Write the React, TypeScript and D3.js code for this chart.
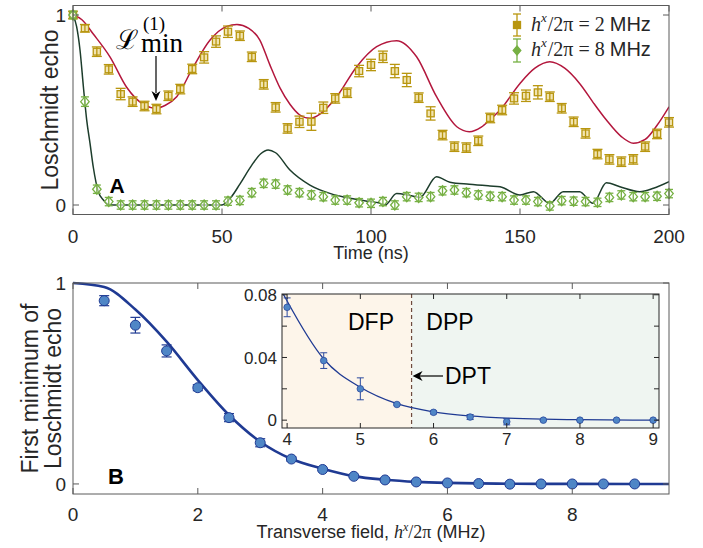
import React, { useEffect } from 'react';
import * as d3 from 'd3';

// ---- panel A: Loschmidt echo vs time ----
const timeNs = [0, 4, 8, 12, 16, 20, 24, 28, 32, 36, 40, 44, 48, 52, 56, 60, 64, 68, 72, 76, 80, 84, 88, 92, 96, 100,
  104, 108, 112, 116, 120, 124, 128, 132, 136, 140, 144, 148, 152, 156, 160, 164, 168, 172, 176, 180, 184, 188, 192, 196, 200];

const echo2MHz = [1.0, 0.93, 0.807, 0.714, 0.584, 0.544, 0.521, 0.505, 0.575, 0.61,
  0.716, 0.777, 0.86, 0.912, 0.891, 0.78, 0.635, 0.514, 0.403, 0.438,
  0.438, 0.512, 0.561, 0.591, 0.705, 0.737, 0.78, 0.705, 0.658, 0.565,
  0.482, 0.368, 0.307, 0.302, 0.338, 0.458, 0.5, 0.561, 0.575, 0.593,
  0.57, 0.509, 0.438, 0.377, 0.268, 0.24, 0.228, 0.24, 0.307, 0.374,
  0.435];
const err2MHz = [0.02, 0.02, 0.025, 0.025, 0.03, 0.025, 0.025, 0.025, 0.025, 0.025,
  0.025, 0.03, 0.03, 0.03, 0.025, 0.025, 0.025, 0.025, 0.025, 0.03,
  0.045, 0.03, 0.025, 0.025, 0.03, 0.03, 0.03, 0.035, 0.035, 0.025,
  0.035, 0.025, 0.025, 0.025, 0.025, 0.025, 0.025, 0.03, 0.03, 0.035,
  0.025, 0.025, 0.025, 0.025, 0.025, 0.025, 0.025, 0.025, 0.025, 0.025,
  0.025];

const echo8MHz = [1.0, 0.544, 0.083, 0.018, 0, 0, 0, 0, 0, 0,
  0, 0, 0, 0.02, 0.024, 0.065, 0.114, 0.11, 0.079, 0.065,
  0.053, 0.044, 0.026, 0.026, 0.012, 0.009, 0.018, 0.0, 0.044, 0.04,
  0.044, 0.075, 0.079, 0.065, 0.053, 0.046, 0.044, 0.026, 0.026, 0.018,
  -0.005, 0.023, 0.02, 0.018, 0.014, 0.04, 0.053, 0.044, 0.044, 0.046,
  0.06];
const err8MHz = [0.02, 0.025, 0.022, 0.022, 0.022, 0.022, 0.022, 0.022, 0.022, 0.022,
  0.022, 0.022, 0.022, 0.022, 0.022, 0.022, 0.022, 0.022, 0.022, 0.022,
  0.022, 0.022, 0.022, 0.022, 0.022, 0.022, 0.022, 0.022, 0.022, 0.022,
  0.022, 0.022, 0.022, 0.022, 0.022, 0.022, 0.022, 0.022, 0.022, 0.022,
  0.022, 0.022, 0.022, 0.022, 0.022, 0.022, 0.022, 0.022, 0.022, 0.022,
  0.022];

// theory curves
const theory2MHz: [number, number][] = [[0, 1.0], [3, 0.975], [6.8, 0.9], [12.4, 0.78], [18, 0.62], [23.6, 0.53], [28, 0.51],
  [31, 0.525], [34.8, 0.57], [40.4, 0.728], [46, 0.868], [51.6, 0.94], [55, 0.95], [59, 0.93], [62.7, 0.868], [66, 0.74],
  [69.5, 0.615], [72.8, 0.53], [76, 0.475], [79.5, 0.456], [83, 0.48], [88.5, 0.57], [95.2, 0.728], [101.9, 0.833],
  [108.6, 0.865], [115.3, 0.78], [122, 0.57], [128.8, 0.412], [133, 0.386], [137, 0.41], [140, 0.45], [143.3, 0.5],
  [150, 0.64], [155, 0.72], [160, 0.754], [165, 0.72], [170, 0.64], [175, 0.53], [179, 0.447], [184, 0.36], [188, 0.325],
  [192, 0.345], [196, 0.42], [200, 0.517]];
const theory8MHz: [number, number][] = [[0, 1], [1.2, 0.94], [2.35, 0.816], [3.5, 0.62], [4.6, 0.447], [5.7, 0.326], [6.8, 0.2],
  [8.5, 0.07], [10.2, 0.026], [12, 0.003], [14, 0], [50, 0], [53, 0.04], [56, 0.11], [60, 0.21], [63, 0.27], [65.5, 0.29],
  [68, 0.275], [72.8, 0.184], [79.5, 0.105], [86.2, 0.061], [92.9, 0.035], [99.7, 0.018], [102.5, 0.012], [104.7, 0.0],
  [108.6, 0.06], [113, 0.05], [116.4, 0.04], [122, 0.149], [126.5, 0.12], [133, 0.109], [139.9, 0.1], [143.3, 0.096],
  [150, 0.053], [154.5, 0.07], [160, 0.009], [164.5, 0.07], [170, 0.07], [174.5, 0.009], [179, 0.117], [183.5, 0.096],
  [190.2, 0.07], [194.8, 0.088], [200, 0.123]];

// ---- panel B: first minimum vs transverse field ----
const fieldMHz = [0.5, 1, 1.5, 2, 2.5, 3, 3.5, 4, 4.5, 5, 5.5, 6, 6.5, 7, 7.5, 8, 8.5, 9];
const firstMin = [0.912, 0.79, 0.662, 0.479, 0.33, 0.205, 0.124, 0.072, 0.038, 0.02, 0.01, 0.005, 0.002, -0.001, 0, 0, 0, 0];
const firstMinErr = [0.025, 0.039, 0.03, 0.015, 0.02, 0.02, 0.01, 0.006, 0.005, 0.007, 0.0005, 0.001, 0.0016, 0.002, 0, 0, 0, 0];
const fitField = [0, 0.5, 1, 1.5, 2, 2.5, 3, 3.5, 4, 4.5, 5, 5.5, 6, 6.5, 7, 7.5, 8, 9, 9.55];
const fitValue = [1, 0.98, 0.868, 0.708, 0.517, 0.343, 0.21, 0.124, 0.076, 0.039, 0.021, 0.0105, 0.0053, 0.0027, 0.0013, 0.0006, 0.0003, 0, 0];
const dptField = 5.7;

const topXTicks = [0, 50, 100, 150, 200];
const topYTicks = [0, 1];
const botXTicks = [0, 2, 4, 6, 8];
const botYTicks = [0, 1];
const insetXTicks = [4, 5, 6, 7, 8, 9];
const insetYTicks = [0, 0.02, 0.04, 0.06, 0.08];
const insetYLabels = [0, 0.04, 0.08];
const legendFields = ['2', '8'];

const sans = "'Liberation Sans', Arial, Helvetica, sans-serif";
const narrow = "'Liberation Sans Narrow', 'Liberation Sans', Arial, sans-serif";
const serif = "'Liberation Serif', 'DejaVu Serif', 'Times New Roman', serif";

const GOLD = '#b8960f';
const GOLD_FILL = '#f1e4b0';
const LIME = '#76b043';
const CRIMSON = '#b3173d';
const DARKGREEN = '#1d3d2c';
const NAVY = '#1f3a93';
const DOT = '#4f86c6';
const AXIS = '#5a5a5a';
const TXT = '#262626';

const fmt = (v: number) => (v === 0 ? '0' : String(v));

function Frame({ x0, x1, y0, y1, xt, yt, xs, ys, len, color }: any) {
  return (
    <g stroke={color} strokeWidth={1} fill="none">
      {xt.map((t: number) => (
        <g key={'x' + t}>
          <line x1={xs(t)} x2={xs(t)} y1={y1} y2={y1 - len} />
          <line x1={xs(t)} x2={xs(t)} y1={y0} y2={y0 + len} />
        </g>
      ))}
      {yt.map((t: number) => (
        <g key={'y' + t}>
          <line x1={x0} x2={x0 + len} y1={ys(t)} y2={ys(t)} />
          <line x1={x1} x2={x1 - len} y1={ys(t)} y2={ys(t)} />
        </g>
      ))}
      <rect x={x0} y={y0} width={x1 - x0} height={y1 - y0} />
    </g>
  );
}

export default function App() {
  useEffect(() => {
    document.body.style.margin = '0';
  }, []);

  // panel A scales
  const xT = d3.scaleLinear().domain([0, 200]).range([73, 669]);
  const yT = d3.scaleLinear().domain([-0.05, 1.05]).range([214.5, 5.5]);
  // panel B scales
  const xB = d3.scaleLinear().domain([0, 9.55]).range([73, 669]);
  const yB = d3.scaleLinear().domain([-0.05, 1]).range([494, 283]);
  // inset scales
  const xI = d3.scaleLinear().domain([3.93, 9.08]).range([282, 659]);
  const yI = d3.scaleLinear().domain([-0.005, 0.0805]).range([428, 294]);

  const lineT = d3.line<[number, number]>().x(d => xT(d[0])).y(d => yT(d[1])).curve(d3.curveMonotoneX);
  const fitPts = fitField.map((f, i) => [f, fitValue[i]] as [number, number]);
  const lineB = d3.line<[number, number]>().x(d => xB(d[0])).y(d => yB(d[1])).curve(d3.curveMonotoneX);
  const lineI = d3.line<[number, number]>().x(d => xI(d[0])).y(d => yI(d[1])).curve(d3.curveMonotoneX);

  const [ax0, ax1] = xT.range();
  const [ay1, ay0] = yT.range();
  const [bx0, bx1] = xB.range();
  const [by1, by0] = yB.range();
  const [ix0, ix1] = xI.range();
  const [iy1, iy0] = yI.range();
  const xDpt = xI(dptField);

  const diamond = (cx: number, cy: number, r: number) =>
    `M${cx},${cy - r}L${cx + r * 0.85},${cy}L${cx},${cy + r}L${cx - r * 0.85},${cy}Z`;

  return (
    <svg width={703} height={548} style={{ display: 'block', background: '#fff' }} fontFamily={sans}>
      <defs>
        <clipPath id="clipInset">
          <rect x={ix0} y={iy0} width={ix1 - ix0} height={iy1 - iy0} />
        </clipPath>
        <clipPath id="clipA">
          <rect x={ax0} y={ay0} width={ax1 - ax0} height={ay1 - ay0} />
        </clipPath>
      </defs>

      {/* ================= panel A ================= */}
      <g clipPath="url(#clipA)">
        <path d={lineT(theory2MHz) || ''} fill="none" stroke={CRIMSON} strokeWidth={1.5} />
        <path d={lineT(theory8MHz) || ''} fill="none" stroke={DARKGREEN} strokeWidth={1.5} />
      </g>
      {timeNs.map((t, i) => {
        const cx = xT(t), cy = yT(echo2MHz[i]);
        const lo = yT(echo2MHz[i] - err2MHz[i]), hi = yT(echo2MHz[i] + err2MHz[i]);
        return (
          <g key={'g' + t} stroke={GOLD} strokeWidth={1.3}>
            <rect x={cx - 3.6} y={cy - 3.4} width={7.2} height={6.8} fill={GOLD_FILL} />
            <line x1={cx} x2={cx} y1={lo} y2={hi} />
            <line x1={cx - 5} x2={cx + 5} y1={lo} y2={lo} />
            <line x1={cx - 5} x2={cx + 5} y1={hi} y2={hi} />
          </g>
        );
      })}
      {timeNs.map((t, i) => {
        const cx = xT(t), cy = yT(echo8MHz[i]);
        const lo = yT(echo8MHz[i] - err8MHz[i]), hi = yT(echo8MHz[i] + err8MHz[i]);
        return (
          <g key={'d' + t} stroke={LIME} strokeWidth={1.3} fill="none">
            <path d={diamond(cx, cy, 5)} fill="#ffffff" fillOpacity={0.6} />
            <line x1={cx} x2={cx} y1={lo} y2={hi} />
            <line x1={cx - 4} x2={cx + 4} y1={lo} y2={lo} />
            <line x1={cx - 4} x2={cx + 4} y1={hi} y2={hi} />
          </g>
        );
      })}
      <Frame x0={ax0} x1={ax1} y0={ay0} y1={ay1} xt={topXTicks} yt={topYTicks} xs={xT} ys={yT} len={6} color={AXIS} />
      {topXTicks.map(t => (
        <text key={'tx' + t} x={xT(t)} y={243} textAnchor="middle" fontSize={19} fill={TXT}>{t}</text>
      ))}
      {topYTicks.map(t => (
        <text key={'ty' + t} x={66} y={yT(t)} dy="0.36em" textAnchor="end" fontSize={19} fill={TXT}>{t}</text>
      ))}
      <text x={(ax0 + ax1) / 2} y={259} textAnchor="middle" fontSize={18} fontFamily={narrow} fill={TXT}>Time (ns)</text>
      <text transform={`translate(58,${(ay0 + ay1) / 2}) rotate(-90)`} textAnchor="middle" fontSize={23} fill={TXT}>Loschmidt echo</text>
      <text x={117} y={193} textAnchor="middle" fontSize={21} fontWeight="bold" fill="#000">A</text>

      {/* L_min annotation */}
      <text x={116} y={49} fontSize={27} fontFamily="'DejaVu Serif', serif" fill="#000">ℒ</text>
      <text x={143} y={30} fontSize={19} fontFamily={serif} fill="#000">(1)</text>
      <text x={141} y={52} fontSize={27} fontFamily={serif} fill="#000">min</text>
      <line x1={156} x2={156} y1={56} y2={93} stroke="#000" strokeWidth={1.2} />
      <path d="M156,101 L151.5,91 L156,94 L160.5,91 Z" fill="#000" />

      {/* legend */}
      <g stroke={GOLD} strokeWidth={1.3}>
        <line x1={517} x2={517} y1={14} y2={36} />
        <line x1={513} x2={521} y1={14} y2={14} />
        <line x1={513} x2={521} y1={36} y2={36} />
        <rect x={513.5} y={21.5} width={7} height={7} fill={GOLD} />
      </g>
      <g stroke={LIME} strokeWidth={1.3}>
        <line x1={517} x2={517} y1={39} y2={62} />
        <line x1={513} x2={521} y1={39} y2={39} />
        <line x1={513} x2={521} y1={62} y2={62} />
        <path d={diamond(517, 50.5, 4.5)} fill={LIME} />
      </g>
      {legendFields.map((v, k) => (
        <text key={'lg' + v} x={531} y={31 + k * 25} fontSize={20} fill={TXT}>
          <tspan fontFamily={serif} fontStyle="italic">h</tspan>
          <tspan fontFamily={serif} fontStyle="italic" fontSize={13} dy={-9}>x</tspan>
          <tspan fontFamily={serif} dy={9} dx={1}>/2π</tspan>
          <tspan fontFamily={serif} dx={5}>=</tspan>
          <tspan fontFamily={serif} dx={5}>{v}</tspan>
          <tspan fontFamily={sans} dx={5}>MHz</tspan>
        </text>
      ))}

      {/* ================= panel B ================= */}
      <path d={lineB(fitPts) || ''} fill="none" stroke={NAVY} strokeWidth={2.6} />
      {fieldMHz.map((f, i) => {
        const cx = xB(f), cy = yB(firstMin[i]);
        const lo = yB(firstMin[i] - firstMinErr[i]), hi = yB(firstMin[i] + firstMinErr[i]);
        return (
          <g key={'b' + f} stroke={NAVY} strokeWidth={1.2}>
            <line x1={cx} x2={cx} y1={lo} y2={hi} />
            <line x1={cx - 5} x2={cx + 5} y1={lo} y2={lo} />
            <line x1={cx - 5} x2={cx + 5} y1={hi} y2={hi} />
            <circle cx={cx} cy={cy} r={5} fill={DOT} strokeWidth={1} />
          </g>
        );
      })}
      <Frame x0={bx0} x1={bx1} y0={by0} y1={by1} xt={botXTicks} yt={botYTicks} xs={xB} ys={yB} len={6} color={AXIS} />
      {botXTicks.map(t => (
        <text key={'bx' + t} x={xB(t)} y={521} textAnchor="middle" fontSize={19} fill={TXT}>{t}</text>
      ))}
      {botYTicks.map(t => (
        <text key={'by' + t} x={66} y={yB(t)} dy="0.36em" textAnchor="end" fontSize={19} fill={TXT}>{t}</text>
      ))}
      <text x={(bx0 + bx1) / 2} y={538} textAnchor="middle" fontSize={18} fontFamily={narrow} fill={TXT}>
        Transverse field, <tspan fontFamily={serif} fontStyle="italic">h</tspan>
        <tspan fontFamily={serif} fontStyle="italic" fontSize={12} dy={-7}>x</tspan>
        <tspan fontFamily={serif} dy={7}>/2π</tspan> (MHz)
      </text>
      <text transform={`translate(38,${(by0 + by1) / 2}) rotate(-90)`} textAnchor="middle" fontSize={23} fill={TXT}>First minimum of</text>
      <text transform={`translate(61,${(by0 + by1) / 2}) rotate(-90)`} textAnchor="middle" fontSize={23} fill={TXT}>Loschmidt echo</text>
      <text x={116} y={484} textAnchor="middle" fontSize={22} fontWeight="bold" fill="#000">B</text>

      {/* ================= inset ================= */}
      <rect x={ix0} y={iy0} width={xDpt - ix0} height={iy1 - iy0} fill="#fdf5ea" />
      <rect x={xDpt} y={iy0} width={ix1 - xDpt} height={iy1 - iy0} fill="#eff5f1" />
      <line x1={xDpt} x2={xDpt} y1={iy0} y2={iy1} stroke="#6e4b3e" strokeWidth={1.2} strokeDasharray="4,3" />
      <g clipPath="url(#clipInset)">
        <path d={lineI(fitPts) || ''} fill="none" stroke={NAVY} strokeWidth={1.3} />
      </g>
      {fieldMHz.filter(f => f >= 4).map(f => {
        const i = fieldMHz.indexOf(f);
        const cx = xI(f), cy = yI(firstMin[i]);
        const lo = yI(firstMin[i] - firstMinErr[i]), hi = yI(firstMin[i] + firstMinErr[i]);
        return (
          <g key={'i' + f} stroke="#2c4a9e" strokeWidth={1}>
            <line x1={cx} x2={cx} y1={lo} y2={hi} />
            <line x1={cx - 3.5} x2={cx + 3.5} y1={lo} y2={lo} />
            <line x1={cx - 3.5} x2={cx + 3.5} y1={hi} y2={hi} />
            <circle cx={cx} cy={cy} r={3.3} fill={DOT} strokeWidth={0.8} />
          </g>
        );
      })}
      <Frame x0={ix0} x1={ix1} y0={iy0} y1={iy1} xt={insetXTicks} yt={insetYTicks} xs={xI} ys={yI} len={5} color="#262626" />
      {insetXTicks.map(t => (
        <text key={'ix' + t} x={xI(t)} y={445} textAnchor="middle" fontSize={17} fill={TXT}>{t}</text>
      ))}
      {insetYLabels.map(t => (
        <text key={'iy' + t} x={277} y={yI(t)} dy="0.36em" textAnchor="end" fontSize={17} fill={TXT}>{fmt(t)}</text>
      ))}
      <text x={371} y={330} textAnchor="middle" fontSize={23} fill="#000">DFP</text>
      <text x={450} y={330} textAnchor="middle" fontSize={23} fill="#000">DPP</text>
      <text x={445} y={384} fontSize={23} fill="#000">DPT</text>
      <line x1={443} x2={418} y1={376} y2={376} stroke="#000" strokeWidth={1.2} />
      <path d={`M${xDpt + 1},376 L${xDpt + 11},371 L${xDpt + 8},376 L${xDpt + 11},381 Z`} fill="#000" />
    </svg>
  );
}
